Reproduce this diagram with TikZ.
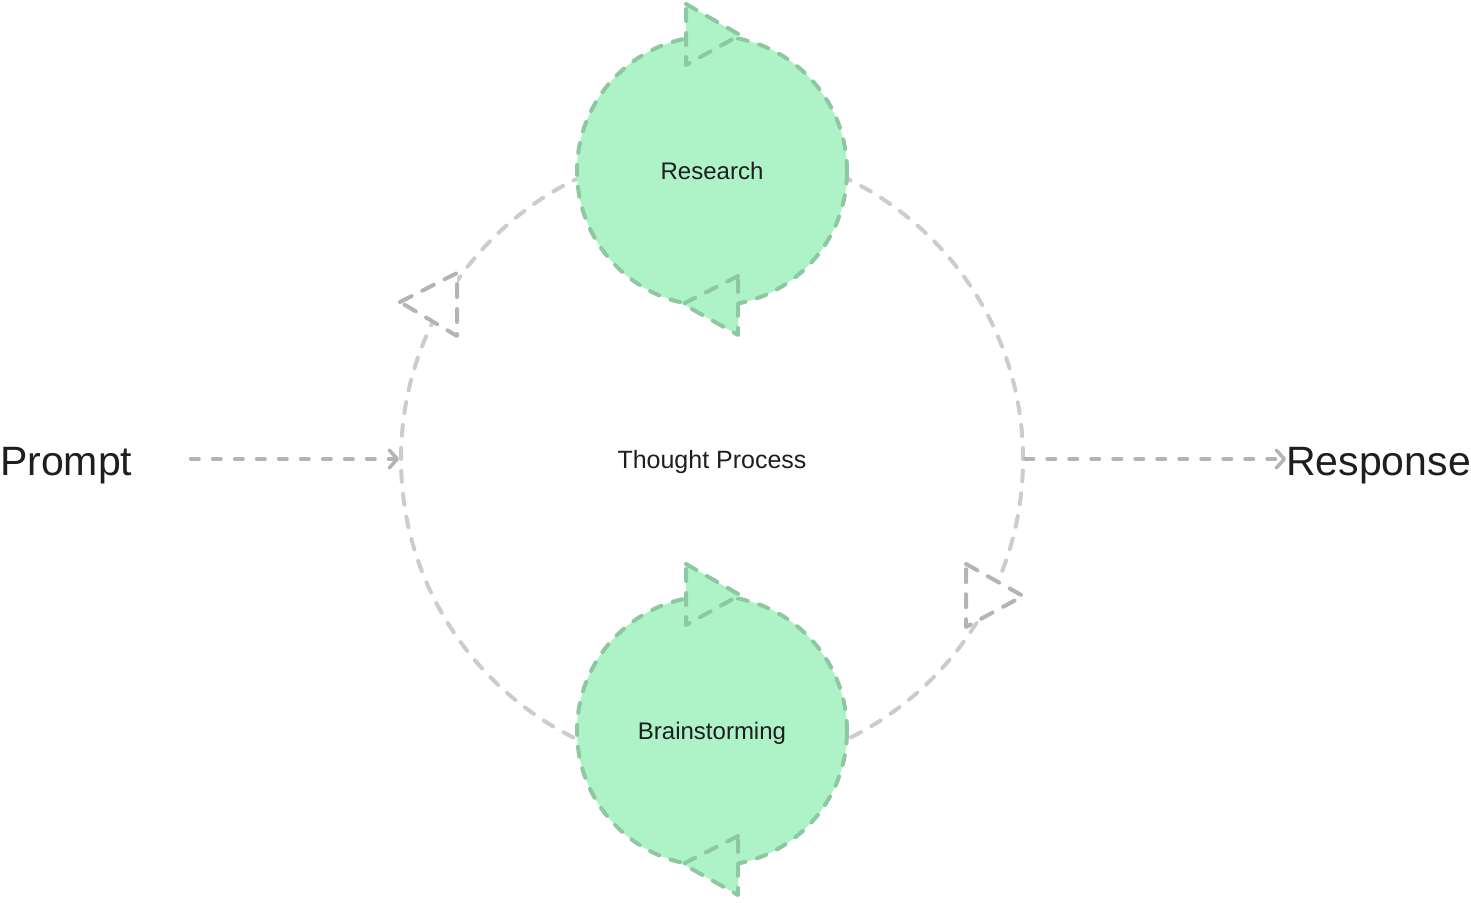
\documentclass[tikz,border=0pt]{standalone}
\usepackage{fontspec}
\setmainfont{Liberation Sans}
\usetikzlibrary{arrows.meta}
\definecolor{mint}{HTML}{AEF3C8}
\definecolor{mintline}{HTML}{8DC8A0}
\definecolor{loopgray}{HTML}{CCCCCC}
\definecolor{tipgray}{HTML}{B4B4B4}
\definecolor{ink}{HTML}{1E1E1E}
\begin{document}
\begin{tikzpicture}[x=1pt,y=-1pt,line cap=round,line join=round,
    stage/.style={circle,minimum size=270pt,fill=mint,draw=mintline,line width=4pt,
      dash pattern=on 10pt off 12pt,text=ink,font=\fontsize{24}{28}\selectfont,text depth=0pt},
    nub/.style={fill=mint,draw=mintline,line width=4pt,dash pattern=on 12pt off 12pt},
    graynub/.style={fill=white,draw=tipgray,line width=4pt,dash pattern=on 13pt off 12pt},
    flow/.style={draw=tipgray,line width=3.5pt,dash pattern=on 8.5pt off 13.5pt,
      -{Straight Barb[length=8pt,width=18pt,round]}},
    word/.style={inner sep=0pt,anchor=base west,text=ink,font=\fontsize{41}{48}\selectfont}]
  \useasboundingbox (0,0) rectangle (1471,902);
  % the thought loop
  \node[circle,minimum size=622pt,draw=loopgray,line width=4pt,dash pattern=on 11pt off 12pt,
    text=ink,font=\fontsize{25}{30}\selectfont,text depth=0pt] (thought) at (712,459) {Thought Process};
  \begin{scope}[shift={(thought)}]
    \draw[graynub] (-312,-157) -- (-255,-186) -- (-255,-123) -- cycle;
    \draw[graynub] (254,105) -- (311,137) -- (254,168) -- cycle;
  \end{scope}
  \node[stage] (research) at (712,171) {Research};
  \node[stage] (brainstorm) at (712,731) {Brainstorming};
  \foreach \s in {research,brainstorm}{
    \begin{scope}[shift={(\s)}]
      \draw[nub] (-26,-167) -- (28,-136) -- (-26,-106) -- cycle;
      \draw[nub] (26,105) -- (-29,133) -- (26,164) -- cycle;
    \end{scope}}
  % in and out
  \node[word] (prompt) at (0,475) {Prompt};
  \node[word] (response) at (1286,475) {Response};
  \draw[flow,shorten <=58pt] (prompt.east |- thought) -- (thought.west);
  \draw[flow] (thought.east) -- (response.west |- thought);
\end{tikzpicture}
\end{document}
